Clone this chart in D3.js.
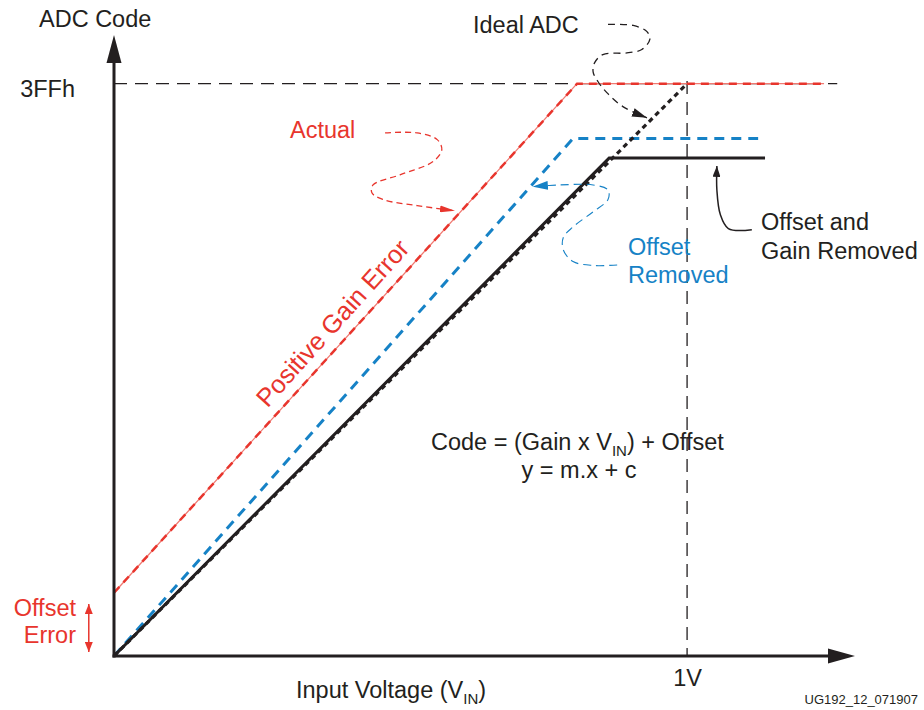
<!DOCTYPE html>
<html>
<head>
<meta charset="utf-8">
<script src="https://cdn.jsdelivr.net/npm/d3@7"></script>
<style>
body { margin: 0; background: #fff; }
text { font-family: "Liberation Sans", Arial, Helvetica, sans-serif; }
</style>
</head>
<body>
<div id="chart"></div>
<script>

// tick values (volts / codes) and their labels
var xTicks = [1];
var xTickLabels = ["1V"];
var yTicks = [1023];
var yTickLabels = ["3FFh"];

// transfer curves, [volts, code]
var idealAdc = [[0, 0], [1, 1023]];
var actual = [[0, 113], [0.808, 1023], [1.239, 1023]];
var offsetRemoved = [[0, 0], [0.801, 925], [1.124, 925]];
var gainRemoved = [[0, 0], [0.864, 890], [1.136, 890]];

// callout leaders, same units as above
var actualLeader = [[0.473, 935], [0.529, 935], [0.564, 923], [0.572, 905], [0.557, 884], [0.499, 860],
    [0.452, 842], [0.450, 828], [0.469, 816], [0.529, 805], [0.595, 796]];
var idealLeader = [[0.862, 1129], [0.906, 1127], [0.930, 1116], [0.935, 1102], [0.921, 1084], [0.895, 1078],
    [0.853, 1075], [0.839, 1061], [0.836, 1044], [0.845, 1026], [0.860, 1007], [0.888, 982], [0.930, 962]];
var offsetLeader = [[0.878, 699], [0.836, 698], [0.801, 705], [0.784, 726], [0.784, 748], [0.801, 767],
    [0.836, 794], [0.862, 816], [0.862, 833], [0.836, 842], [0.778, 842], [0.731, 839]];
var gainLeader = [[1.113, 762], [1.072, 764], [1.058, 789], [1.052, 833], [1.052, 876]];
var offsetErrorSpan = [[-0.044, 93], [-0.044, 7]];

var xMax = 1.293, yMax = 1110;

var red = "#e8352d", blue = "#1682c6", ink = "#231f20";

var svg = d3.select("#chart").append("svg")
    .attr("width", 924)
    .attr("height", 710);

var x = d3.scaleLinear().domain([0, xMax]).range([114, 855]);
var y = d3.scaleLinear().domain([0, yMax]).range([656, 35]);

var line = d3.line().x(d => x(d[0])).y(d => y(d[1]));
var curve = d3.line().x(d => x(d[0])).y(d => y(d[1])).curve(d3.curveCatmullRom.alpha(0.5));

// arrow markers
var defs = svg.append("defs");
function marker(id, color, len, w) {
    defs.append("marker")
        .attr("id", id)
        .attr("markerUnits", "userSpaceOnUse")
        .attr("markerWidth", len).attr("markerHeight", w)
        .attr("refX", len).attr("refY", w / 2)
        .attr("orient", "auto-start-reverse")
        .append("path")
        .attr("d", "M0,0 L" + len + "," + (w / 2) + " L0," + w + " Z")
        .attr("fill", color);
}
marker("arRed", red, 15, 7);
marker("arBlue", blue, 15, 9);
marker("arInk", ink, 15, 9);
marker("arInkSm", ink, 11, 8);
marker("arSpan", red, 10, 8);

// 3FFh and 1V reference dashes
svg.append("path")
    .attr("d", line([[0, 1023], [1.262, 1023]]))
    .attr("stroke", ink).attr("stroke-width", 1.3).attr("fill", "none")
    .attr("stroke-dasharray", "13,8");
svg.append("path")
    .attr("d", line([[1, 1028], [1, 0]]))
    .attr("stroke", ink).attr("stroke-width", 1.3).attr("fill", "none")
    .attr("stroke-dasharray", "13,8");

// actual (thin line under dashes)
svg.append("path").attr("d", line(actual))
    .attr("stroke", "#f07a72").attr("stroke-width", 1.3).attr("fill", "none");
svg.append("path").attr("d", line(actual))
    .attr("stroke", red).attr("stroke-width", 2.5).attr("fill", "none")
    .attr("stroke-dasharray", "8,6");

svg.append("path").attr("d", line(offsetRemoved))
    .attr("stroke", blue).attr("stroke-width", 3).attr("fill", "none")
    .attr("stroke-dasharray", "10,7");

svg.append("path").attr("d", line(gainRemoved))
    .attr("stroke", ink).attr("stroke-width", 3).attr("fill", "none");

svg.append("path").attr("d", line(idealAdc))
    .attr("stroke", ink).attr("stroke-width", 3.2).attr("fill", "none")
    .attr("stroke-dasharray", "5,4");

// leaders
svg.append("path").attr("d", curve(actualLeader))
    .attr("stroke", red).attr("stroke-width", 1.3).attr("fill", "none")
    .attr("stroke-dasharray", "6,4").attr("marker-end", "url(#arRed)");
svg.append("path").attr("d", curve(idealLeader))
    .attr("stroke", ink).attr("stroke-width", 1.3).attr("fill", "none")
    .attr("stroke-dasharray", "7,5").attr("marker-end", "url(#arInk)");
svg.append("path").attr("d", curve(offsetLeader))
    .attr("stroke", blue).attr("stroke-width", 1.1).attr("fill", "none")
    .attr("stroke-dasharray", "8,5").attr("marker-end", "url(#arBlue)");
svg.append("path").attr("d", curve(gainLeader))
    .attr("stroke", ink).attr("stroke-width", 1.5).attr("fill", "none")
    .attr("marker-end", "url(#arInkSm)");
svg.append("path").attr("d", line(offsetErrorSpan))
    .attr("stroke", red).attr("stroke-width", 1.5).attr("fill", "none")
    .attr("marker-start", "url(#arSpan)").attr("marker-end", "url(#arSpan)");

// axes with arrow heads
svg.append("line")
    .attr("x1", x(0)).attr("x2", x(0))
    .attr("y1", y(0) + 1.5).attr("y2", y(yMax) + 26)
    .attr("stroke", ink).attr("stroke-width", 3);
svg.append("path")
    .attr("d", "M" + x(0) + "," + y(yMax) + " L" + (x(0) + 7.5) + "," + (y(yMax) + 28) +
        " L" + (x(0) - 7.5) + "," + (y(yMax) + 28) + " Z")
    .attr("fill", ink);
svg.append("line")
    .attr("x1", x(0) - 1.5).attr("x2", x(xMax) - 25)
    .attr("y1", y(0)).attr("y2", y(0))
    .attr("stroke", ink).attr("stroke-width", 3);
svg.append("path")
    .attr("d", "M" + x(xMax) + "," + y(0) + " L" + (x(xMax) - 27) + "," + (y(0) - 7.5) +
        " L" + (x(xMax) - 27) + "," + (y(0) + 7.5) + " Z")
    .attr("fill", ink);

// tick labels
var xAxis = svg.append("g")
    .attr("transform", "translate(0," + y(0) + ")")
    .call(d3.axisBottom(x).tickValues(xTicks).tickSize(0).tickPadding(13)
        .tickFormat((d, i) => xTickLabels[i]));
var yAxis = svg.append("g")
    .attr("transform", "translate(" + x(0) + ",0)")
    .call(d3.axisLeft(y).tickValues(yTicks).tickSize(0).tickPadding(39)
        .tickFormat((d, i) => yTickLabels[i]));
svg.selectAll(".domain").remove();
svg.selectAll(".tick text")
    .attr("font-family", "'Liberation Sans', Arial, sans-serif")
    .attr("font-size", 23.5).attr("fill", ink);
yAxis.selectAll(".tick text").attr("dy", 12.5);

// labels
function label(t, px, py, color, anchor) {
    return svg.append("text")
        .attr("x", px).attr("y", py)
        .attr("font-size", 23.5)
        .attr("fill", color || ink)
        .attr("text-anchor", anchor || "start")
        .text(t);
}
label("ADC Code", 39, 27);
label("Actual", 290, 138, red);
label("Ideal ADC", 473, 33);
label("Offset and", 761, 230);
label("Gain Removed", 761, 259);
label("Offset", 628, 255, blue);
label("Removed", 628, 283, blue);
label("Offset", 76, 616, red, "end");
label("Error", 76, 643, red, "end");
label("y = m.x + c", 579, 478, ink, "middle");

label("Positive Gain Error", 0, 0, red, "middle")
    .attr("font-size", 25.5)
    .attr("transform", "translate(339,329) rotate(-48)");

var f = svg.append("text").attr("x", 431).attr("y", 450).attr("font-size", 23.5).attr("fill", ink);
f.append("tspan").text("Code = (Gain x V");
f.append("tspan").attr("font-size", 15).attr("dy", 6).text("IN");
f.append("tspan").attr("dy", -6).text(") + Offset");

var xl = svg.append("text").attr("x", 296).attr("y", 698).attr("font-size", 23.5).attr("fill", ink);
xl.append("tspan").text("Input Voltage (V");
xl.append("tspan").attr("font-size", 15).attr("dy", 6).text("IN");
xl.append("tspan").attr("dy", -6).text(")");

svg.append("text")
    .attr("x", 918).attr("y", 704)
    .attr("font-size", 13).attr("text-anchor", "end").attr("fill", ink)
    .text("UG192_12_071907");

</script>
</body>
</html>
